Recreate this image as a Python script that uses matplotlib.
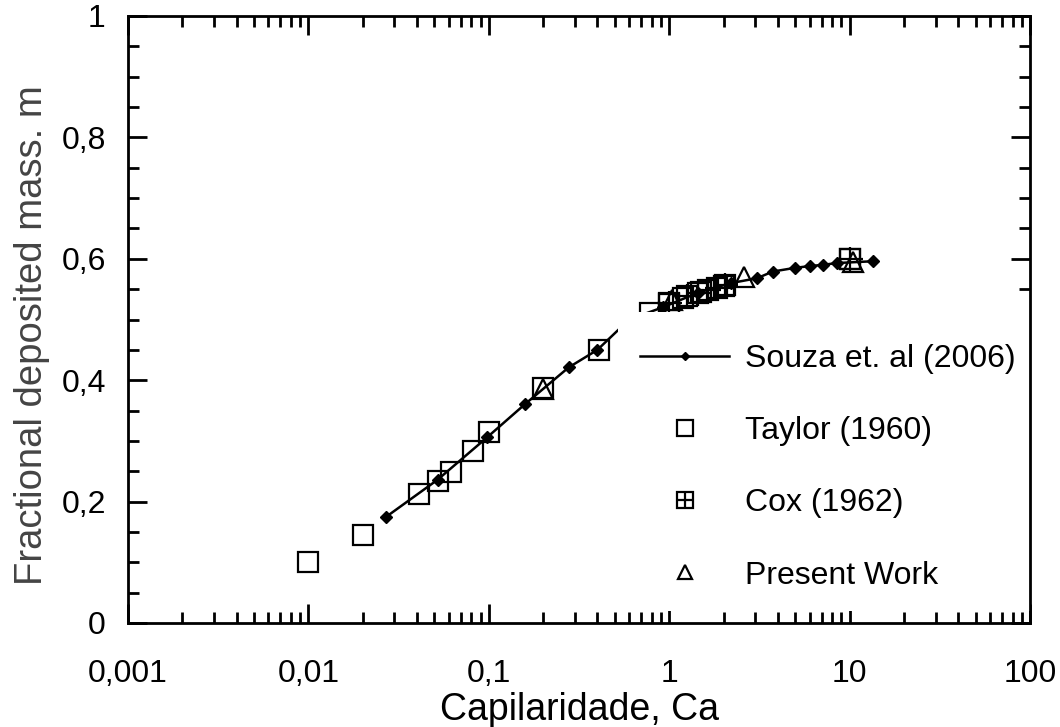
import matplotlib
matplotlib.use('Agg')
import matplotlib.pyplot as plt
from matplotlib.ticker import MultipleLocator, LogLocator, FuncFormatter, NullFormatter
from matplotlib.legend_handler import HandlerTuple
from matplotlib.patches import Rectangle

plt.rcParams['font.family'] = ['Liberation Sans', 'DejaVu Sans']

# Souza et. al (2006) - line with diamonds
souza_ca = [0.027, 0.052, 0.098, 0.158, 0.277, 0.40, 0.60, 0.92, 1.44, 2.2, 3.07, 3.75, 4.96, 6.0, 7.1, 8.5, 13.5]
souza_m = [0.175, 0.236, 0.306, 0.360, 0.421, 0.450, 0.500, 0.520, 0.544, 0.560, 0.568, 0.579, 0.585, 0.588, 0.590, 0.593, 0.596]

# Taylor (1960)
taylor_ca = [0.01, 0.02, 0.041, 0.052, 0.062, 0.082, 0.10, 0.20, 0.41, 0.78, 1.0, 1.2, 1.5, 2.0, 10.0]
taylor_m = [0.100, 0.145, 0.213, 0.234, 0.249, 0.283, 0.315, 0.387, 0.450, 0.510, 0.525, 0.535, 0.545, 0.555, 0.600]

# Cox (1962)
cox_ca = [1.0, 1.25, 1.45, 1.65, 1.85, 2.05, 10.0]
cox_m = [0.528, 0.538, 0.543, 0.548, 0.552, 0.557, 0.600]

# Present Work
present_ca = [0.2, 1.04, 2.6, 10.4]
present_m = [0.385, 0.532, 0.570, 0.595]

x_ticks = [0.001, 0.01, 0.1, 1, 10, 100]
x_ticklabels = ['0,001', '0,01', '0,1', '1', '10', '100']

fig = plt.figure(figsize=(10.6, 7.27), dpi=100)
ax = fig.add_axes([128 / 1060, 1 - 623 / 727, 902 / 1060, 607 / 727])

souza, = ax.plot(souza_ca, souza_m, '-', color='k', lw=1.8, marker='D', ms=6,
                 mfc='k', mec='k', zorder=2)
taylor, = ax.plot(taylor_ca, taylor_m, ls='none', marker='s', ms=15, mfc='none',
                  mec='k', mew=1.6, zorder=2)
cox_sq, = ax.plot(cox_ca, cox_m, ls='none', marker='s', ms=15, mfc='none',
                  mec='k', mew=1.6, zorder=2)
cox_plus, = ax.plot(cox_ca, cox_m, ls='none', marker='+', ms=18, mec='k',
                    mew=1.6, zorder=2)
present, = ax.plot(present_ca, present_m, ls='none', marker='^', ms=14, mfc='none',
                   mec='k', mew=1.6, zorder=2)

# white legend background that hides data behind it
ax.add_patch(Rectangle(((618 - 128) / 902, 0.02), 1 - (618 - 128) / 902, (623 - 312) / 607 - 0.02,
                       transform=ax.transAxes, fc='white', ec='none', zorder=2.3))

ax.set_xscale('log')
ax.set_xlim(0.001, 100)
ax.set_ylim(0, 1)
ax.set_xticks(x_ticks)
ax.set_xticklabels(x_ticklabels)
ax.xaxis.set_minor_locator(LogLocator(base=10, subs=range(2, 10), numticks=20))
ax.xaxis.set_minor_formatter(NullFormatter())
ax.yaxis.set_major_locator(MultipleLocator(0.2))
ax.yaxis.set_minor_locator(MultipleLocator(0.05))
ax.yaxis.set_major_formatter(FuncFormatter(lambda v, p: ('%g' % round(v, 2)).replace('.', ',')))

for s in ax.spines.values():
    s.set_linewidth(2)
ax.tick_params(which='both', direction='in', top=True, right=True, width=2, labelsize=23)
ax.tick_params(which='major', length=14)
ax.tick_params(which='minor', length=8)
ax.tick_params(axis='x', pad=26)
ax.tick_params(axis='y', pad=16)

ax.set_xlabel('Capilaridade, Ca', fontsize=27, labelpad=2)
ax.set_ylabel('Fractional deposited mass. m', fontsize=27.5, color='#444444')
ax.yaxis.set_label_coords(-0.087, 0.474)

ax.legend([souza, taylor, (cox_sq, cox_plus), present],
          ['Souza et. al (2006)', 'Taylor (1960)', 'Cox (1962)', 'Present Work'],
          handler_map={tuple: HandlerTuple(ndivide=1, pad=0)},
          frameon=False, loc='upper left', bbox_to_anchor=((640 - 128) / 902, (623 - 344) / 607),
          borderpad=0, borderaxespad=0, handlelength=2.8, handletextpad=0.5,
          labelspacing=1.32, fontsize=23, numpoints=1, markerscale=0.75)

fig.savefig('out.png', dpi=100)
